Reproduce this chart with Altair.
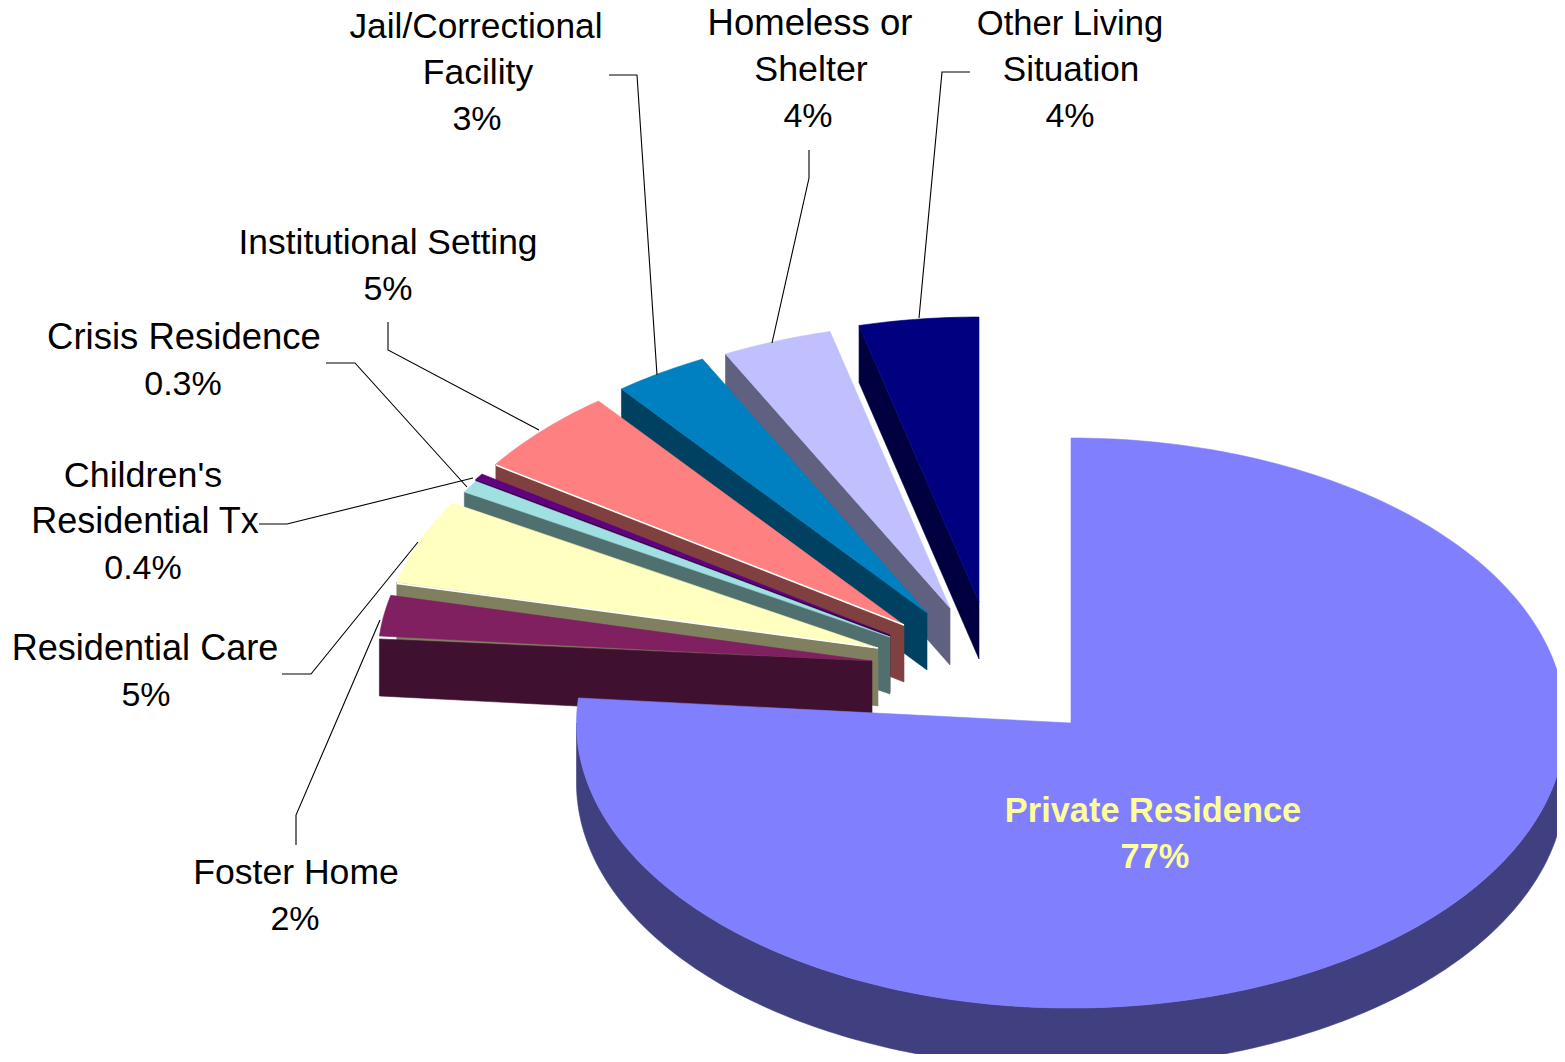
import math
import altair as alt
import pandas as pd

# ---- data (percent of total, clockwise from 12 o'clock)
names = ["Other Living Situation", "Homeless or Shelter", "Jail/Correctional Facility",
         "Institutional Setting", "Crisis Residence", "Children's Residential Tx",
         "Residential Care", "Foster Home", "Private Residence"]
shares = [3.9, 3.6, 3.1, 4.85, 0.35, 0.7, 4.8, 2.3, 76.4]
tops = ["#000080", "#C0C0FF", "#0080C0", "#FF8080", "#600080", "#A0E0E0", "#FFFFC0", "#802060", "#8080FF"]
walls = ["#000040", "#606080", "#004060", "#804040", "#300040", "#507070", "#808060", "#401030", "#404080"]
# explosion of each slice: where its tip sits on the page
tip_x = [979, 950, 927, 904, 890, 890, 878, 872, 1071]
tip_y = [602, 608, 613, 625, 635, 637, 648, 661, 723]
depths = [57, 57, 57, 57, 57, 57, 58, 60, 60]
white_edge = [False, False, False, True, False, False, True, False, False]
wall_gap = [0, 0, 0, 0, 0, 0, 0, 3, 0]

label_text = ["Jail/Correctional", "Facility", "3%", "Homeless or", "Shelter", "4%",
              "Other Living", "Situation", "4%", "Institutional Setting", "5%",
              "Crisis Residence", "0.3%", "Children's", "Residential Tx", "0.4%",
              "Residential Care", "5%", "Foster Home", "2%"]
label_x = [476, 478, 477, 810, 811, 808, 1070, 1071, 1070, 388, 388,
           184, 183, 143, 145, 143, 145, 146, 296, 295]
label_y = [38, 84, 130, 35, 81, 127, 35, 81, 127, 254, 300,
           349, 395, 487, 533, 579, 660, 706, 884, 930]
label_size = [35.3, 35.5, 34, 36.5, 35.8, 34, 34.6, 35.1, 34, 35.4, 34,
              36.5, 34, 35.9, 36, 34, 36.1, 34, 35.6, 34]
inner_text = ["Private Residence", "77%"]
inner_x = [1153, 1155]
inner_y = [822, 868]

leaders = {
    "jail": ([609, 637, 657], [75, 75, 375]),
    "homeless": ([809, 809, 772], [150, 178, 343]),
    "other": ([970, 942, 919], [72, 72, 318]),
    "inst": ([388, 388, 539], [322, 350, 430]),
    "crisis": ([326, 355, 467], [363, 363, 487]),
    "children": ([259, 287, 473], [524, 524, 478]),
    "residential": ([282, 311, 418], [674, 674, 542]),
    "foster": ([296, 296, 380], [845, 815, 620]),
}

RX, RY = 494.5, 285
W, H = 1549, 1046
XS = alt.Scale(domain=[8, 8 + W], range=[0, W], nice=False, zero=False)
YS = alt.Scale(domain=[8, 8 + H], range=[0, H], nice=False, zero=False)


def enc(mark, df):
    return alt.Chart(df).mark_line(**mark).encode(
        x=alt.X("x:Q", scale=XS, axis=None),
        y=alt.Y("y:Q", scale=YS, axis=None),
        order="i:Q",
    )


def poly(pts, color, stroke=None, width=0.6):
    df = pd.DataFrame({"i": range(len(pts)), "x": [p[0] for p in pts], "y": [p[1] for p in pts]})
    return enc(dict(interpolate="linear-closed", fill=color, stroke=stroke or color,
                    strokeWidth=width, clip=False), df)


def line(xs, ys, color, width):
    df = pd.DataFrame({"i": range(len(xs)), "x": xs, "y": ys})
    return enc(dict(color=color, strokeWidth=width, clip=False), df)


def arc_pts(cx, cy, a0, a1, dy=0):
    n = max(2, int(abs(a1 - a0) / 1.0) + 1)
    out = []
    for k in range(n + 1):
        a = math.radians(a0 + (a1 - a0) * k / n)
        out.append((cx + RX * math.sin(a), cy - RY * math.cos(a) + dy))
    return out


layers = []
# main slice side wall (front half of the rim)
cx, cy = tip_x[-1], tip_y[-1]
layers.append(poly(arc_pts(cx, cy, 90, 270, depths[-1]) + arc_pts(cx, cy, 270, 90), walls[-1]))

# exploded slices, back to front
angle = 0.0
for n in range(len(names) - 1):
    start = angle
    angle -= shares[n] * 3.6
    ax, ay = tip_x[n], tip_y[n]
    arc = arc_pts(ax, ay, start, angle)
    ox, oy = arc[-1]
    g = wall_gap[n]
    d = depths[n]
    layers.append(poly([(ox, oy + g), (ax, ay), (ax, ay + d), (ox, oy + d)], walls[n]))
    layers.append(poly([(ax, ay)] + arc, tops[n]))
    if white_edge[n]:
        layers.append(line([ox, ax], [oy + 1, ay], "#FFFFFF", 1.6))

# main slice on top
start = angle
layers.append(poly([(cx, cy)] + arc_pts(cx, cy, 360 + start, 0), tops[-1]))

# leader lines
for xs, ys in leaders.values():
    layers.append(line(xs, ys, "#000000", 1.1))

labels = pd.DataFrame({"t": label_text, "x": label_x, "y": label_y, "s": label_size})
layers.append(alt.Chart(labels).mark_text(font="Liberation Sans", align="center",
                                          baseline="alphabetic", color="#000000").encode(
    x=alt.X("x:Q", scale=XS, axis=None), y=alt.Y("y:Q", scale=YS, axis=None), text="t:N",
    size=alt.Size("s:Q", scale=None, legend=None)))
inner = pd.DataFrame({"t": inner_text, "x": inner_x, "y": inner_y})
layers.append(alt.Chart(inner).mark_text(font="Liberation Sans", fontSize=34.4, fontWeight="bold",
                                         align="center", baseline="alphabetic", color="#FFFF99").encode(
    x=alt.X("x:Q", scale=XS, axis=None), y=alt.Y("y:Q", scale=YS, axis=None), text="t:N"))

chart = alt.layer(*layers).properties(
    width=W, height=H, padding=0, background="#FFFFFF",
    autosize=alt.AutoSizeParams(type="none"),
).configure_view(stroke=None)

chart.save("out.html", embed_options={"renderer": "svg", "actions": False})
